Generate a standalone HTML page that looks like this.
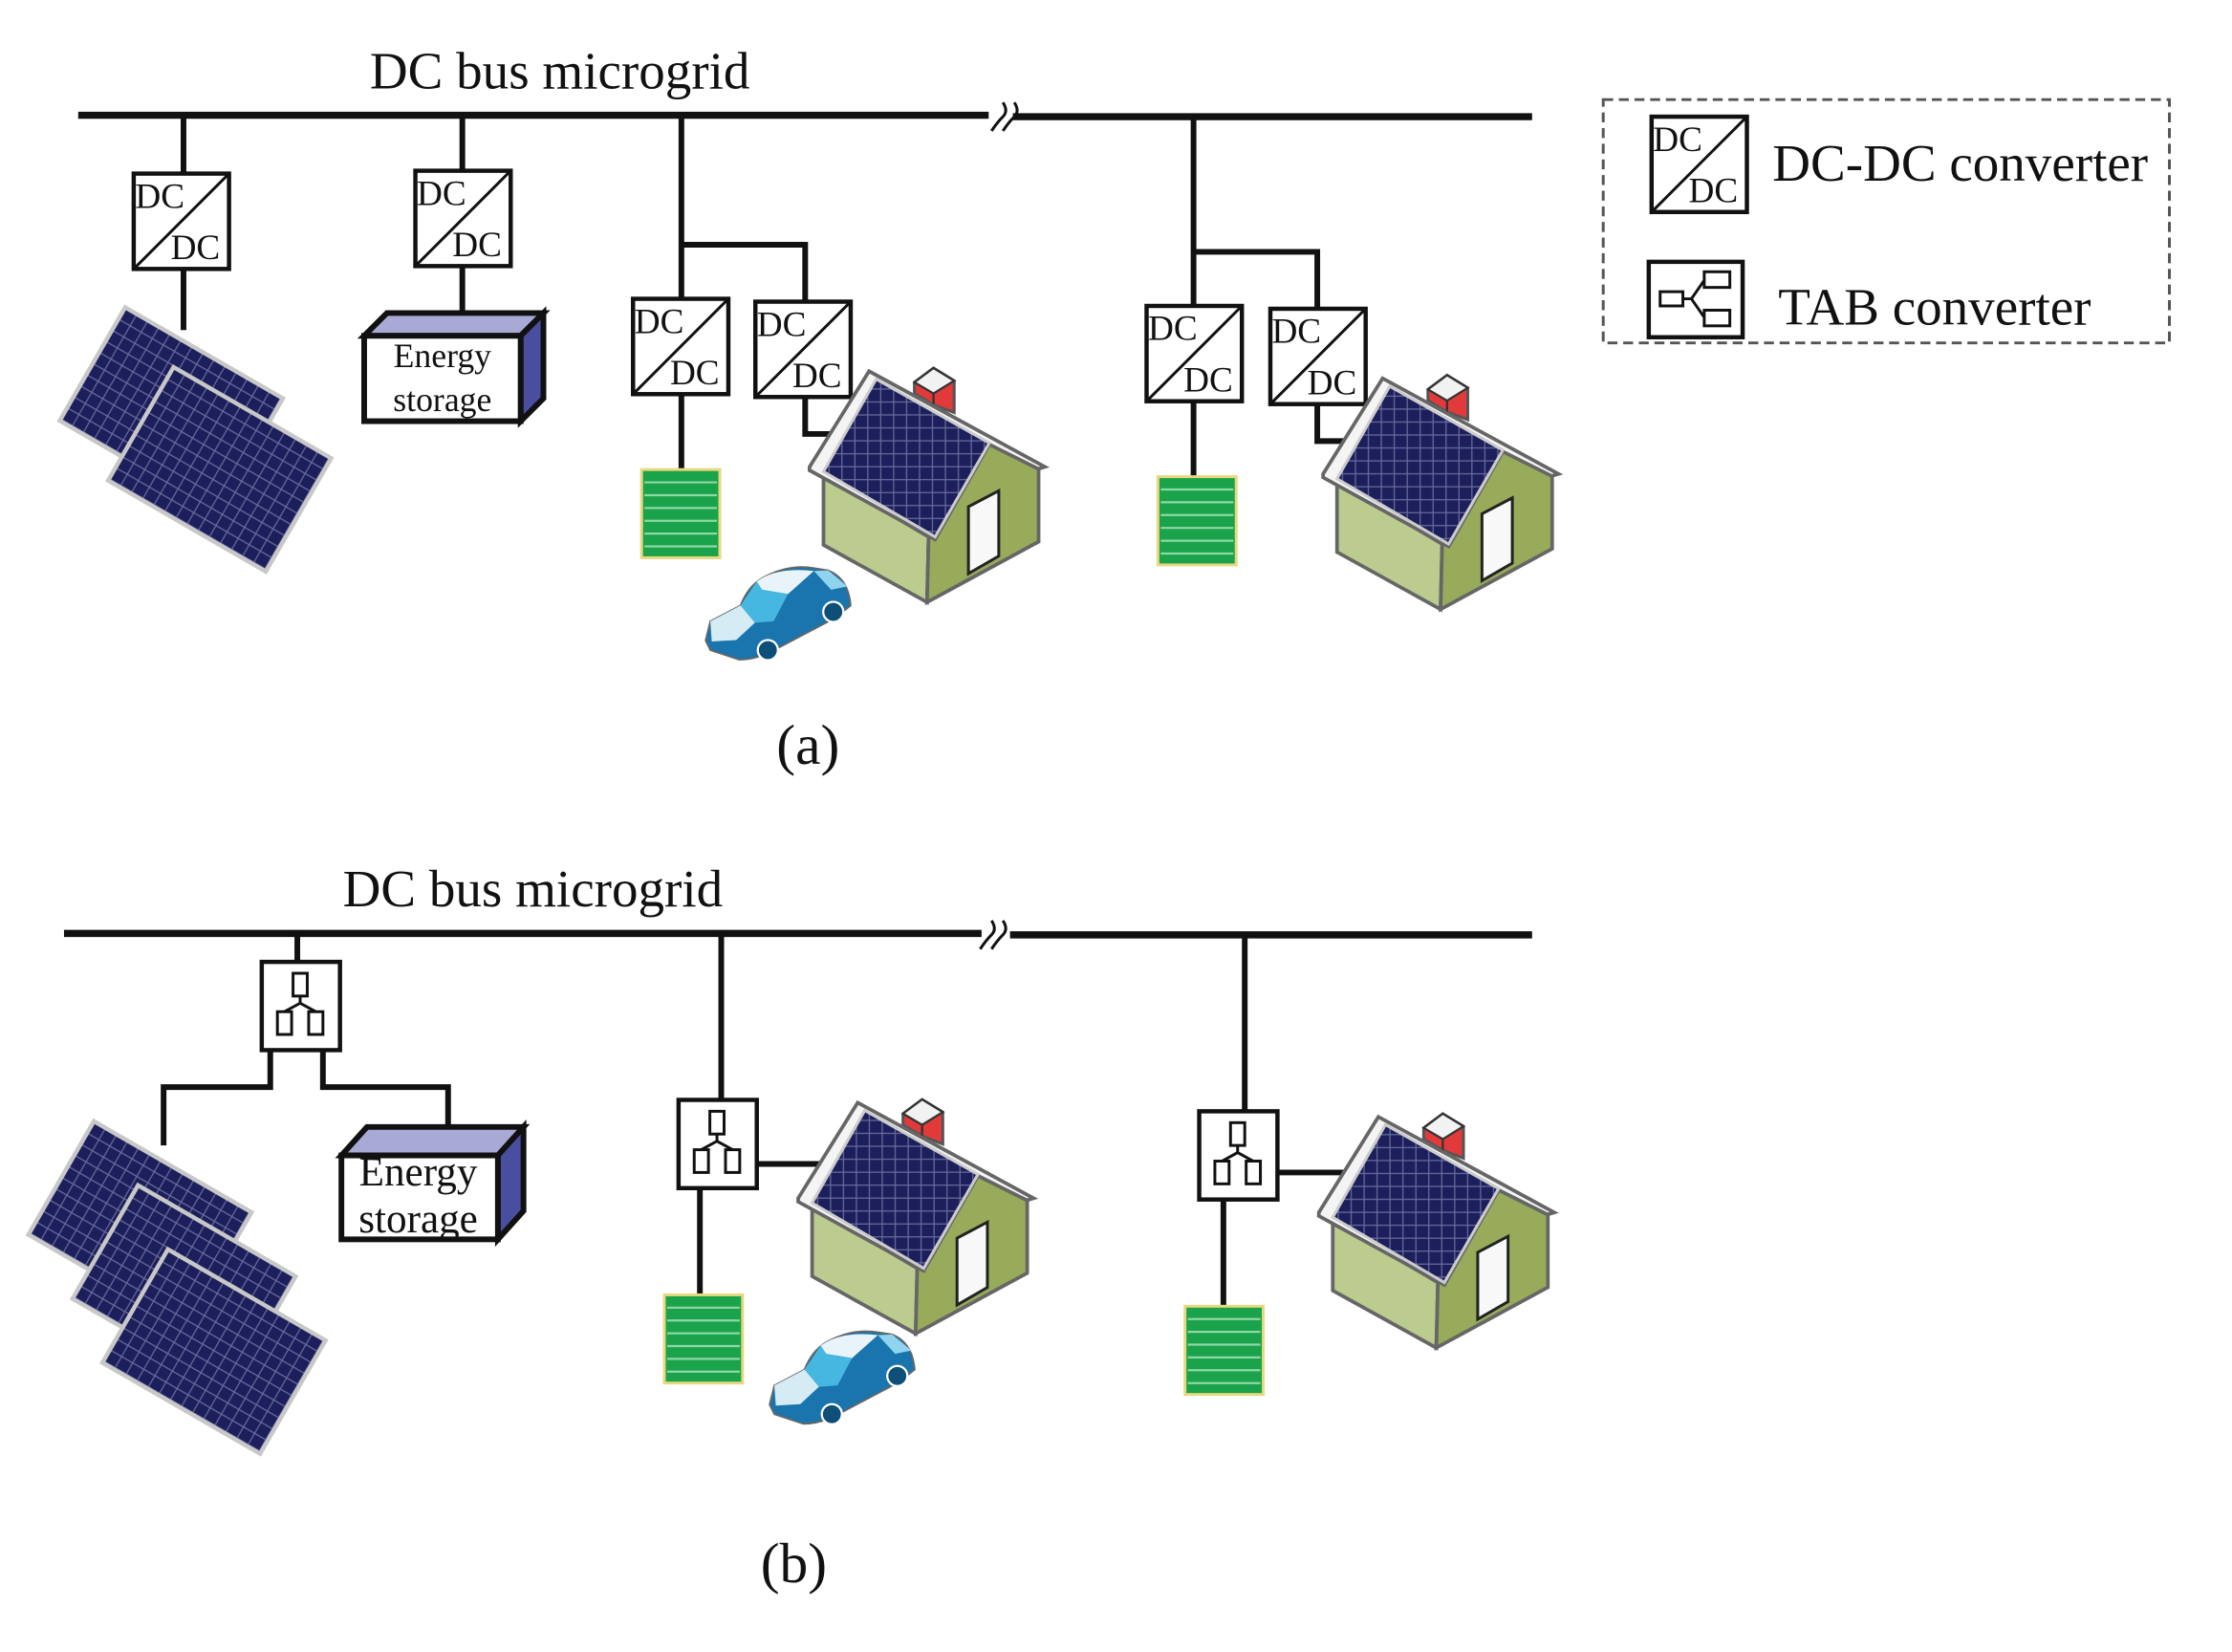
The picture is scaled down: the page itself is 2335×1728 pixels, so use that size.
<!DOCTYPE html>
<html><head><meta charset="utf-8"><style>
html,body{margin:0;padding:0;background:#fff;}
svg{display:block;}
text{font-family:"Liberation Serif",serif;fill:#111;}
</style></head><body>
<svg width="2335" height="1728" viewBox="0 0 1569 1161" preserveAspectRatio="none" xmlns="http://www.w3.org/2000/svg">
<defs>
<pattern id="cells" width="9" height="9" patternUnits="userSpaceOnUse">
<rect width="9" height="9" fill="#1d1f5c"/>
<path d="M0 0.5H9M0.5 0V9" stroke="#6a6d9c" stroke-width="0.8"/>
</pattern>
<g id="panel">
<rect x="0" y="0" width="128" height="92" fill="url(#cells)" stroke="#c8c8c8" stroke-width="3"/>
</g>
<g id="dcdc">
<rect x="0" y="0" width="67" height="67" fill="#fff" stroke="#111" stroke-width="3"/>
<line x1="0" y1="67" x2="67" y2="0" stroke="#111" stroke-width="2"/>
<text x="1" y="24" font-size="25">DC</text>
<text x="26" y="60" font-size="25">DC</text>
</g>
<g id="tab">
<rect x="0" y="0" width="55" height="62" fill="#fff" stroke="#111" stroke-width="3"/>
<rect x="22" y="8" width="10" height="16" fill="#fff" stroke="#111" stroke-width="2"/>
<path d="M27 24V29L16 35M27 29L38 35" fill="none" stroke="#111" stroke-width="2"/>
<rect x="11" y="35" width="10" height="16" fill="#fff" stroke="#111" stroke-width="2"/>
<rect x="33" y="35" width="10" height="16" fill="#fff" stroke="#111" stroke-width="2"/>
</g>
<g id="batt">
<rect x="0" y="0" width="55" height="62" fill="#1aa34a" stroke="#e8d880" stroke-width="2"/>
<path d="M2 9H53M2 18H53M2 27H53M2 36H53M2 45H53M2 54H53" stroke="#8fd8a8" stroke-width="1.5"/>
</g>
<g id="house">
<polygon points="635.9,265.8 649.2,255.9 663.6,264.7 663.6,286.9 649.2,281.4 635.9,273.6" fill="#e23a3a" stroke="#555" stroke-width="2"/>
<polygon points="635.9,265.8 649.2,255.9 663.6,264.7 649.2,273.6" fill="#f2f2f2" stroke="#333" stroke-width="1.5"/>
<line x1="649.2" y1="273.6" x2="649.2" y2="281.4" stroke="#333" stroke-width="1.5"/>
<polygon points="572.7,330.1 645.8,373.3 644.7,418.7 572.7,378.9" fill="#bccb8e" stroke="#666" stroke-width="2.5"/>
<polygon points="645.8,373.3 688,309 722.3,323.5 722.3,376.6 644.7,418.7" fill="#97ab5a" stroke="#666" stroke-width="2.5"/>
<polygon points="563,324.6 604.4,258.1 726.7,324.6 722,326 688,309 650.3,375 563,327" fill="#f4f4f4" stroke="#666" stroke-width="2.5"/>
<polygon points="609.3,263.6 688,308 650.3,373.3 572.7,327.9" fill="url(#cells)" stroke="#ccc" stroke-width="2"/>
<polygon points="673.5,352.3 694.6,341.2 694.6,386.6 673.5,398.8" fill="#f8f8f8" stroke="#222" stroke-width="2"/>
</g>
<g id="car">
<path d="M490.7,445.3 L494,432 L515,421 Q520,408 530,402 Q548,392 566,395 L576,396.6 Q590,402 591.6,421 L580.5,429.8 L538.4,452 Q525,459 514,458.6 L494,452 Z" fill="#1a74ad" stroke="#666" stroke-width="1.2"/>
<path d="M526.2,404.3 Q540,394 566,397 L548,413 L530,410 Z" fill="#e8f4fa"/>
<polygon points="515,421 526.2,404.3 530,410 548,413 538,432 525,433" fill="#45b7e0"/>
<path d="M494,432 L515,421 L525,433 L512,445 L495,446 Z" fill="#d5ecf5"/>
<polygon points="566,397 576,396.6 589.4,407.7 578,410" fill="#8fd3ee"/>
<circle cx="534" cy="452" r="7" fill="#0e4f78" stroke="#fff" stroke-width="1.5"/>
<circle cx="579.5" cy="425.4" r="7" fill="#0e4f78" stroke="#fff" stroke-width="1.5"/>
</g>
</defs>

<!-- (a) -->
<text x="260" y="62" font-size="37">DC bus microgrid</text>
<g stroke="#111" stroke-width="5" fill="none">
<line x1="55" y1="81" x2="695" y2="81"/>
<line x1="712" y1="82" x2="1077" y2="82"/>
<path d="M129 81V122M129 189V232M325 81V120M325 187V218M479 81V210M479 172H566V212M479 277V330M566 279V305H590M839 81V215M839 177H926V217M839 282V335M926 284V310H945" stroke-width="4"/>
</g>
<path d="M697 92Q701 86 705 82T705 72M705 92Q709 86 713 82T713 72" stroke="#111" stroke-width="2" fill="none"/>
<use href="#panel" transform="translate(88,216) rotate(30)"/>
<use href="#panel" transform="translate(122,258) rotate(30)"/>
<use href="#dcdc" x="94" y="122"/>
<use href="#dcdc" x="292" y="120"/>
<use href="#dcdc" x="445" y="210"/>
<use href="#dcdc" x="531" y="212"/>
<use href="#dcdc" x="806" y="215"/>
<use href="#dcdc" x="893" y="217"/>
<g stroke="#111" stroke-width="4">
<polygon points="256,236 272,220 382,220 366,236" fill="#a9a9d6"/>
<polygon points="366,236 382,220 382,280 366,296" fill="#4a4ea0"/>
<rect x="256" y="236" width="110" height="60" fill="#fff"/>
</g>
<text x="311" y="258" font-size="24" text-anchor="middle">Energy</text>
<text x="311" y="289" font-size="24" text-anchor="middle">storage</text>
<use href="#batt" x="451" y="330"/>
<use href="#batt" x="814" y="335"/>
<use href="#house" transform="scale(1.0108)"/>
<use href="#house" transform="translate(361,5) scale(1.0108)"/>
<use href="#car" transform="scale(1.0108)"/>
<text x="568" y="537" font-size="40" text-anchor="middle">(a)</text>

<!-- legend -->
<rect x="1127" y="70" width="398" height="171" fill="none" stroke="#555" stroke-width="2" stroke-dasharray="7,4"/>
<use href="#dcdc" x="1161" y="82"/>
<text x="1246" y="127" font-size="37">DC-DC converter</text>
<rect x="1159" y="184" width="66" height="53" fill="#fff" stroke="#111" stroke-width="3"/>
<rect x="1167" y="205" width="16" height="10" fill="#fff" stroke="#111" stroke-width="2"/>
<path d="M1183 210H1189L1198 197M1189 210L1198 223" fill="none" stroke="#111" stroke-width="2"/>
<rect x="1198" y="191" width="18" height="11" fill="#fff" stroke="#111" stroke-width="2"/>
<rect x="1198" y="218" width="18" height="11" fill="#fff" stroke="#111" stroke-width="2"/>
<text x="1250" y="228" font-size="37">TAB converter</text>

<!-- (b) -->
<text x="241" y="637" font-size="37">DC bus microgrid</text>
<g stroke="#111" stroke-width="5" fill="none">
<line x1="45" y1="656" x2="690" y2="656"/>
<line x1="710" y1="657" x2="1077" y2="657"/>
<path d="M209 656V676M190 738V764H115V805M227 738V764H315V792M507 656V773M533 818H597M492 836V910M875 656V781M898 824H955M860 843V918" stroke-width="4"/>
</g>
<path d="M689 667Q693 661 697 657T697 647M697 667Q701 661 705 657T705 647" stroke="#111" stroke-width="2" fill="none"/>
<use href="#panel" transform="translate(66,788) rotate(30)"/>
<use href="#panel" transform="translate(97,833) rotate(30)"/>
<use href="#panel" transform="translate(118,878) rotate(30)"/>
<use href="#tab" x="184" y="676"/>
<use href="#tab" x="477" y="773"/>
<use href="#tab" x="843" y="781"/>
<g stroke="#111" stroke-width="4">
<polygon points="240,812 258,792 368,792 350,812" fill="#a9a9d6"/>
<polygon points="350,812 368,792 368,851 350,871" fill="#4a4ea0"/>
<rect x="240" y="812" width="110" height="59" fill="#fff"/>
</g>
<text x="294" y="833" font-size="29" text-anchor="middle">Energy</text>
<text x="294" y="866" font-size="29" text-anchor="middle">storage</text>
<use href="#batt" x="467" y="910"/>
<use href="#batt" x="833" y="918"/>
<use href="#house" transform="translate(-8,514) scale(1.0108)"/>
<use href="#house" transform="translate(358,524) scale(1.0108)"/>
<use href="#car" transform="translate(45,537) scale(1.0108)"/>
<text x="558" y="1112" font-size="40" text-anchor="middle">(b)</text>
</svg>
</body></html>
